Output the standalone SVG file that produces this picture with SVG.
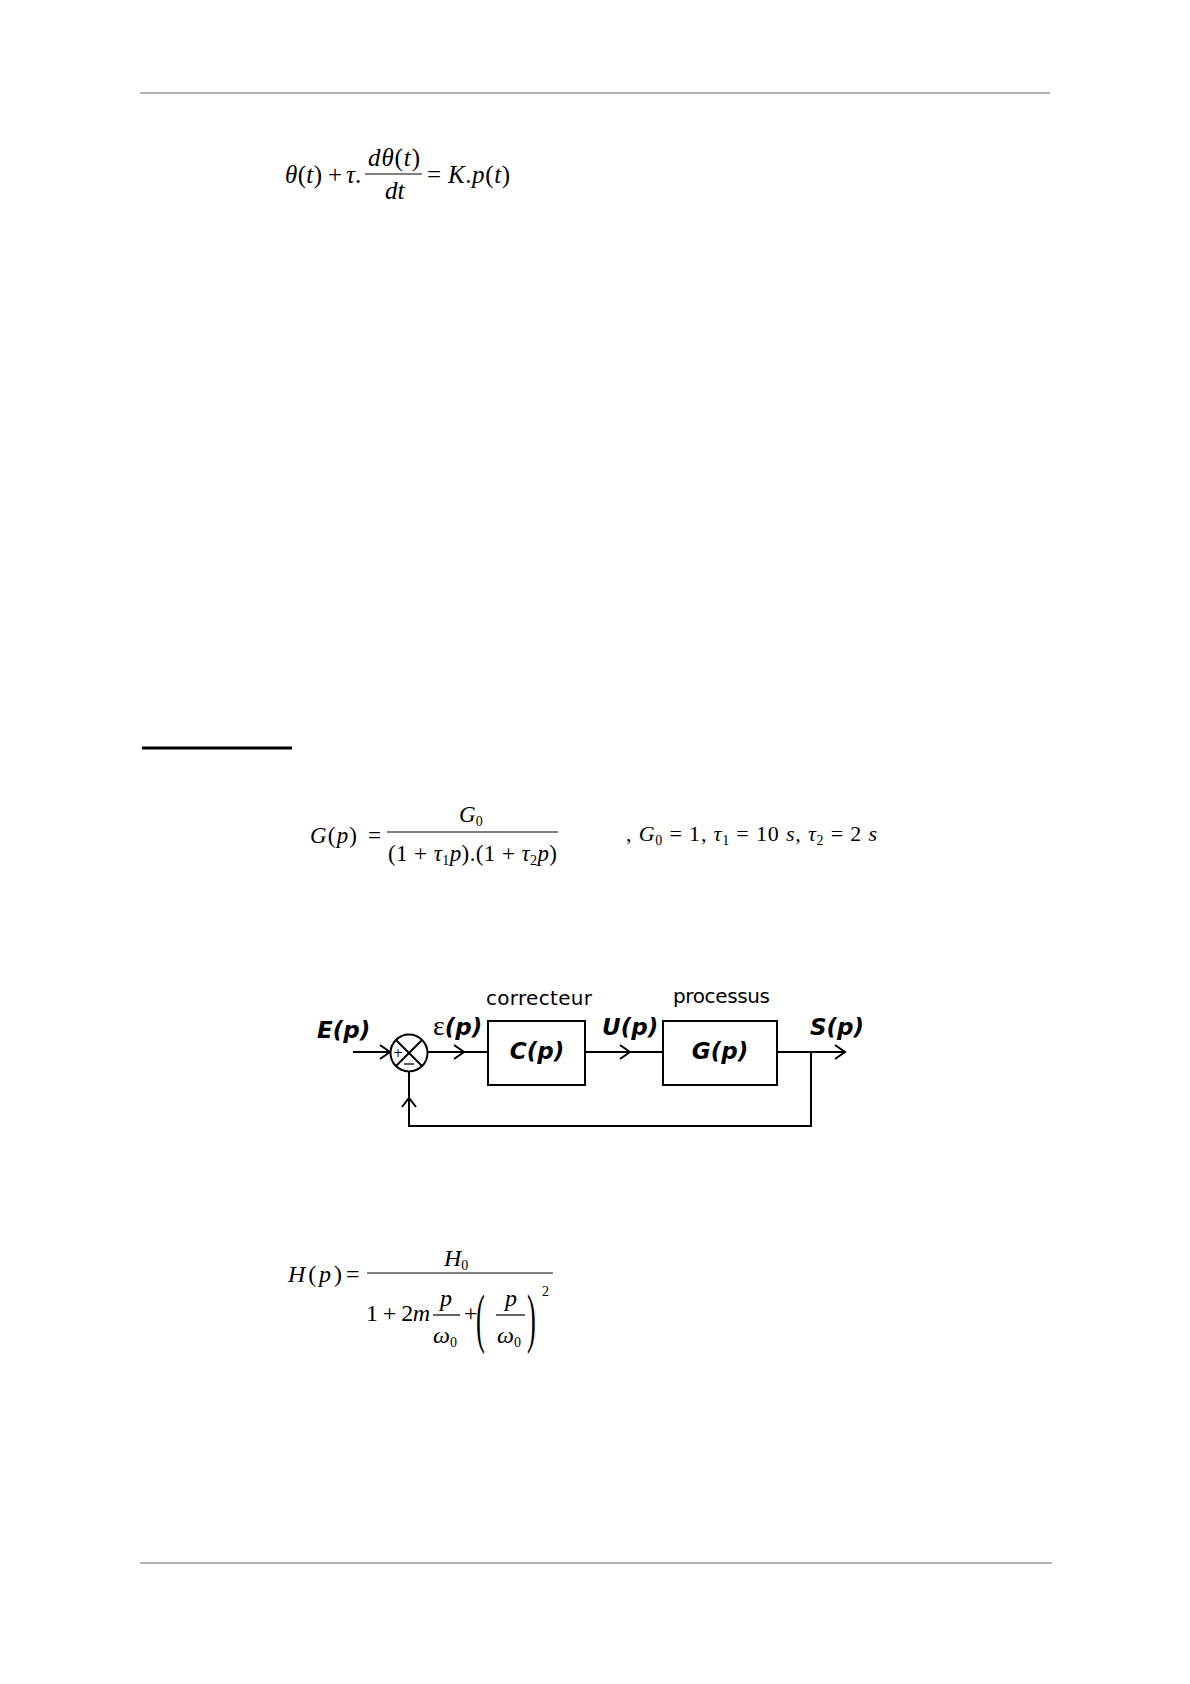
<svg xmlns="http://www.w3.org/2000/svg" width="1190" height="1684" viewBox="0 0 1190 1684">
<style>
.m{font-family:"Liberation Serif","Times New Roman",serif;fill:#000}
.i{font-style:italic}
.sub{font-size:14px}
.rule{stroke:#999;stroke-width:1.5}
.ln{stroke:#000;stroke-width:2;fill:none}
.box{stroke:#000;stroke-width:2;fill:#fff}
.bar{stroke:#000;stroke-width:1.2}
.lb{font-family:"DejaVu Sans","Liberation Sans",sans-serif;font-weight:bold;font-style:italic;font-size:23px;fill:#000}
.cap{font-family:"DejaVu Sans","Liberation Sans",sans-serif;font-size:20px;fill:#000}
</style>
<rect width="1190" height="1684" fill="#fff"/>
<line class="rule" x1="140" y1="93" x2="1050" y2="93"/>
<line class="rule" x1="140" y1="1563" x2="1052" y2="1563"/>
<line x1="142" y1="748" x2="292" y2="748" stroke="#000" stroke-width="3"/>

<g id="eq1" class="m" font-size="25">
<text y="183" textLength="37" lengthAdjust="spacing"><tspan x="285" class="i">θ</tspan>(<tspan class="i">t</tspan>)</text>
<text x="328" y="183">+</text>
<text x="346" y="183"><tspan class="i">τ</tspan>.</text>
<text x="368" y="166" textLength="52" lengthAdjust="spacing"><tspan class="i">d</tspan><tspan class="i">θ</tspan>(<tspan class="i">t</tspan>)</text>
<line class="bar" x1="365" y1="174" x2="422" y2="174"/>
<text x="385" y="199" class="i">dt</text>
<text x="427" y="183">=</text>
<text x="448" y="183" textLength="62" lengthAdjust="spacing"><tspan class="i">K</tspan>.<tspan class="i">p</tspan>(<tspan class="i">t</tspan>)</text>
</g>

<g id="eq2" class="m" font-size="23">
<text y="843" textLength="47" lengthAdjust="spacing"><tspan x="310" class="i">G</tspan>(<tspan class="i">p</tspan>)</text>
<text x="368" y="843">=</text>
<text x="459" y="822"><tspan class="i">G</tspan><tspan class="sub" dy="4">0</tspan></text>
<line class="bar" x1="387" y1="832" x2="558" y2="832"/>
<text x="388" y="861" textLength="169" lengthAdjust="spacing">(1 + <tspan class="i">τ</tspan><tspan class="sub" dy="4">1</tspan><tspan class="i" dy="-4">p</tspan>).(1 + <tspan class="i">τ</tspan><tspan class="sub" dy="4">2</tspan><tspan class="i" dy="-4">p</tspan>)</text>
</g>

<g id="eq3" class="m" font-size="22">
<text x="626" y="841" textLength="251" lengthAdjust="spacing">, <tspan class="i">G</tspan><tspan class="sub" dy="4">0</tspan><tspan dy="-4"> = 1, </tspan><tspan class="i">τ</tspan><tspan class="sub" dy="4">1</tspan><tspan dy="-4"> = 10 </tspan><tspan class="i">s</tspan>, <tspan class="i">τ</tspan><tspan class="sub" dy="4">2</tspan><tspan dy="-4"> = 2 </tspan><tspan class="i">s</tspan></text>
</g>

<g id="connectors">
<line class="ln" x1="353" y1="1052" x2="390" y2="1052"/>
<path class="ln" d="M380,1045 L390,1052 L380,1059"/>
<line class="ln" x1="428" y1="1052" x2="488" y2="1052"/>
<path class="ln" d="M454,1045 L464,1052 L454,1059"/>
<line class="ln" x1="585" y1="1052" x2="663" y2="1052"/>
<path class="ln" d="M620,1045 L630,1052 L620,1059"/>
<line class="ln" x1="777" y1="1052" x2="845" y2="1052"/>
<path class="ln" d="M835,1045 L845,1052 L835,1059"/>
<polyline class="ln" points="811,1052 811,1126 409,1126 409,1071"/>
<path class="ln" d="M402,1107 L409,1098 L416,1107"/>
</g>

<g id="sum">
<circle class="box" cx="409" cy="1053" r="18.5"/>
<line class="ln" x1="396" y1="1040" x2="422" y2="1066"/>
<line class="ln" x1="422" y1="1040" x2="396" y2="1066"/>
<text x="398" y="1057" font-family="DejaVu Sans,sans-serif" font-size="12" text-anchor="middle">+</text>
<line x1="404" y1="1064" x2="414" y2="1064" stroke="#000" stroke-width="1.3"/>
</g>

<g id="correcteur">
<rect class="box" x="488" y="1021" width="97" height="64"/>
<text class="lb" x="537" y="1059" text-anchor="middle">C(p)</text>
<text class="cap" x="486" y="1005" textLength="106" lengthAdjust="spacing">correcteur</text>
</g>

<g id="processus">
<rect class="box" x="663" y="1021" width="114" height="64"/>
<text class="lb" x="720" y="1059" text-anchor="middle">G(p)</text>
<text class="cap" x="673" y="1003" textLength="97" lengthAdjust="spacing">processus</text>
</g>

<g id="labels">
<text class="lb" x="317" y="1038">E(p)</text>
<text y="1035"><tspan x="433" font-family="Liberation Serif,serif" font-size="28">ε</tspan><tspan class="lb">(p)</tspan></text>
<text class="lb" x="602" y="1035">U(p)</text>
<text class="lb" x="810" y="1035">S(p)</text>
</g>

<g id="eq4" class="m" font-size="24">
<text y="1282" textLength="54" lengthAdjust="spacing"><tspan x="288" class="i">H</tspan>(<tspan class="i">p</tspan>)</text>
<text x="346" y="1282">=</text>
<text x="444" y="1266"><tspan class="i">H</tspan><tspan class="sub" dy="4">0</tspan></text>
<line class="bar" x1="367" y1="1273" x2="553" y2="1273"/>
<text x="366" y="1321" textLength="64" lengthAdjust="spacing">1 + 2<tspan class="i">m</tspan></text>
<text x="440" y="1306" class="i">p</text>
<line class="bar" x1="433" y1="1315" x2="460" y2="1315"/>
<text x="433" y="1343"><tspan class="i">ω</tspan><tspan class="sub" dy="4">0</tspan></text>
<text x="464" y="1321">+</text>
<text x="476" y="1340" font-size="66" transform="translate(476 1340) scale(0.4 1) translate(-476 -1340)">(</text>
<text x="505" y="1306" class="i">p</text>
<line class="bar" x1="496" y1="1315" x2="525" y2="1315"/>
<text x="497" y="1343"><tspan class="i">ω</tspan><tspan class="sub" dy="4">0</tspan></text>
<text x="527" y="1340" font-size="66" transform="translate(527 1340) scale(0.4 1) translate(-527 -1340)">)</text>
<text x="542" y="1296" class="sub">2</text>
</g>
</svg>
